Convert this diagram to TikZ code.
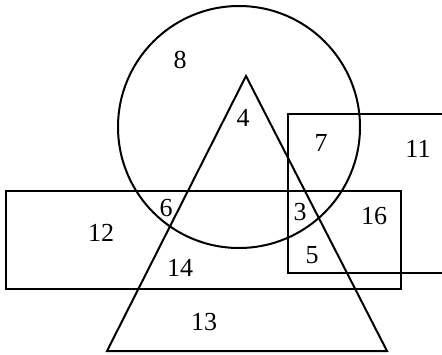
\documentclass[tikz,border=0pt]{standalone}
\usepackage{fontspec}
\setmainfont{Liberation Serif}
\usepackage{tikz}
\usetikzlibrary{calc}
\usetikzlibrary{positioning}

\tikzset{
  numero/.style={font=\fontsize{26}{29}\selectfont, inner sep=0pt},
  contorno/.style={line width=2pt}
}

\begin{document}
\begin{tikzpicture}[x=1pt,y=-1pt]

\useasboundingbox (0,0) rectangle (442,354);
\clip (0,0) rectangle (442,354);

% circulo
\coordinate (C) at (239,127);
\draw[contorno] (C) circle (121);

% triangulo
\coordinate (T1) at (246,76);
\coordinate (T2) at (107,351);
\coordinate (T3) at (387,351);
\draw[contorno, line join=miter] (T1) -- (T2) -- (T3) -- cycle;

% retangulo comprido
\draw[contorno] (6,191) rectangle (401,289);

% retangulo da direita (sai da imagem)
\draw[contorno] (288,114) rectangle (460,273);

% numeros
\node[numero] (n8)  at (180,60)  {8};
\node[numero] (n4)  at (243,118) {4};
\node[numero] (n7)  at (321,143) {7};
\node[numero] (n11) at (418,149) {11};
\node[numero] (n6)  at (166,208) {6};
\node[numero] (n3)  at (300,212) {3};
\node[numero] (n16) at (374,216) {16};
\node[numero] (n12) at (101,233) {12};
\node[numero] (n5)  at (312,255) {5};
\node[numero] (n14) at (180,268) {14};
\node[numero] (n13) at (204,322) {13};

\end{tikzpicture}
\end{document}
